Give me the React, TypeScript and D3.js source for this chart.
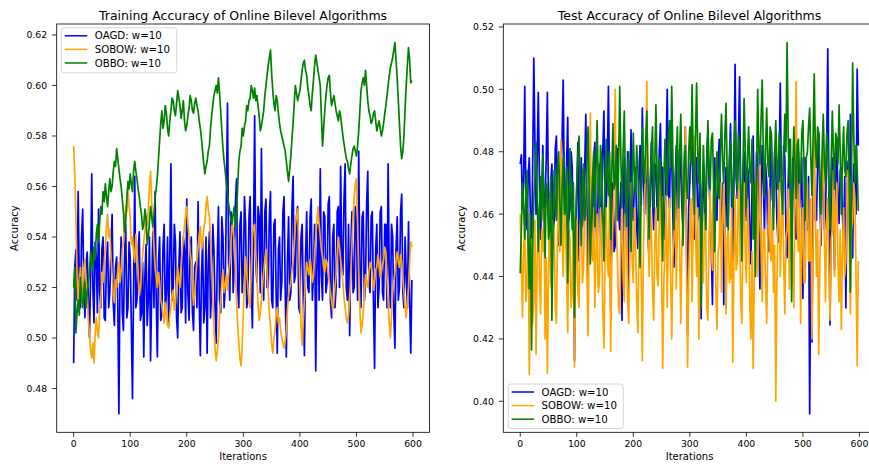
import React from 'react';
import * as d3 from 'd3';

// Iterations sampled every 2 steps (0..598)
const iterations = d3.range(0, 600, 2);

// ---- Training accuracy ----
const trainOagd = [
  0.490,0.528,0.535,0.515,0.558,0.522,0.512,0.540,0.551,0.520,0.508,0.530,0.534,0.515,0.500,0.525,0.565,0.520,0.506,0.538,
  0.532,0.510,0.551,0.518,0.512,0.535,0.540,0.508,0.507,0.530,0.538,0.512,0.518,0.536,0.549,0.514,0.505,0.528,0.532,0.515,
  0.470,0.525,0.540,0.510,0.503,0.532,0.545,0.508,0.512,0.538,0.532,0.505,0.476,0.520,0.564,0.512,0.515,0.535,0.542,0.507,
  0.510,0.530,0.4925,0.525,0.537,0.505,0.515,0.540,0.491,0.518,0.542,0.512,0.558,0.515,0.4925,0.530,0.540,0.507,0.510,0.536,
  0.545,0.510,0.518,0.540,0.505,0.532,0.569,0.515,0.520,0.545,0.538,0.508,0.500,0.528,0.542,0.510,0.512,0.540,0.535,0.506,
  0.555,0.518,0.507,0.536,0.540,0.510,0.503,0.528,0.530,0.512,0.554,0.515,0.493,0.525,0.538,0.506,0.512,0.540,0.494,0.530,
  0.542,0.508,0.520,0.545,0.535,0.512,0.498,0.532,0.552,0.515,0.510,0.548,0.540,0.512,0.520,0.555,0.593,0.530,0.515,0.550,
  0.548,0.518,0.528,0.553,0.563,0.520,0.512,0.545,0.550,0.518,0.525,0.556,0.545,0.512,0.515,0.548,0.556,0.520,0.504,0.540,
  0.588,0.530,0.522,0.552,0.548,0.518,0.575,0.528,0.515,0.550,0.555,0.520,0.520,0.548,0.558,0.515,0.512,0.545,0.547,0.518,
  0.494,0.535,0.540,0.515,0.522,0.550,0.556,0.520,0.4925,0.530,0.548,0.515,0.518,0.552,0.564,0.522,0.525,0.548,0.552,0.512,
  0.510,0.540,0.545,0.515,0.493,0.532,0.550,0.520,0.518,0.548,0.555,0.515,0.525,0.545,0.487,0.528,0.545,0.515,0.567,0.525,
  0.515,0.550,0.548,0.518,0.522,0.553,0.556,0.515,0.508,0.540,0.545,0.512,0.520,0.550,0.552,0.520,0.568,0.530,0.525,0.555,
  0.569,0.520,0.515,0.545,0.501,0.535,0.550,0.518,0.520,0.552,0.545,0.515,0.574,0.525,0.512,0.548,0.550,0.515,0.522,0.553,
  0.566,0.522,0.518,0.548,0.550,0.515,0.488,0.535,0.545,0.512,0.520,0.550,0.552,0.518,0.515,0.545,0.545,0.512,0.569,0.525,
  0.512,0.545,0.540,0.510,0.496,0.535,0.548,0.515,0.520,0.550,0.557,0.518,0.512,0.540,0.525,0.512,0.546,0.515,0.494,0.523,
];
const trainSobow = [
  0.576,0.565,0.548,0.525,0.512,0.522,0.528,0.516,0.520,0.528,0.531,0.522,0.518,0.507,0.502,0.495,0.492,0.498,0.490,0.501,
  0.508,0.503,0.500,0.511,0.515,0.526,0.522,0.530,0.536,0.544,0.549,0.540,0.543,0.532,0.525,0.517,0.514,0.523,0.520,0.527,
  0.530,0.522,0.527,0.535,0.538,0.546,0.552,0.550,0.559,0.552,0.548,0.537,0.540,0.534,0.530,0.541,0.535,0.524,0.517,0.520,
  0.526,0.533,0.538,0.542,0.548,0.545,0.551,0.560,0.566,0.553,0.545,0.536,0.528,0.524,0.520,0.526,0.522,0.515,0.513,0.509,
  0.506,0.514,0.510,0.505,0.504,0.509,0.512,0.517,0.519,0.511,0.514,0.522,0.528,0.523,0.520,0.529,0.535,0.540,0.544,0.549,
  0.552,0.545,0.541,0.534,0.530,0.519,0.513,0.518,0.524,0.531,0.536,0.541,0.544,0.535,0.538,0.543,0.546,0.552,0.556,0.551,
  0.548,0.539,0.530,0.515,0.505,0.496,0.491,0.495,0.500,0.509,0.515,0.522,0.527,0.518,0.521,0.525,0.519,0.526,0.530,0.537,
  0.546,0.543,0.538,0.526,0.515,0.505,0.498,0.492,0.489,0.497,0.510,0.523,0.532,0.526,0.520,0.514,0.512,0.527,0.540,0.544,
  0.545,0.534,0.525,0.513,0.507,0.510,0.515,0.521,0.526,0.531,0.535,0.526,0.518,0.510,0.505,0.498,0.494,0.499,0.503,0.509,
  0.512,0.506,0.508,0.503,0.500,0.498,0.496,0.499,0.503,0.511,0.517,0.520,0.522,0.527,0.530,0.538,0.545,0.548,0.551,0.537,
  0.520,0.505,0.497,0.507,0.515,0.524,0.530,0.527,0.525,0.531,0.528,0.522,0.524,0.533,0.540,0.547,0.552,0.545,0.540,0.535,
  0.532,0.528,0.526,0.531,0.530,0.525,0.522,0.518,0.515,0.511,0.514,0.520,0.525,0.533,0.540,0.536,0.531,0.527,0.522,0.516,
  0.512,0.508,0.506,0.509,0.515,0.526,0.537,0.548,0.556,0.561,0.563,0.545,0.526,0.512,0.502,0.505,0.510,0.518,0.525,0.522,
  0.520,0.526,0.530,0.528,0.526,0.519,0.522,0.527,0.528,0.533,0.530,0.524,0.526,0.529,0.531,0.536,0.534,0.524,0.515,0.506,
  0.500,0.509,0.518,0.522,0.526,0.531,0.534,0.530,0.528,0.533,0.530,0.524,0.518,0.512,0.508,0.514,0.520,0.530,0.538,0.536,
];
const trainObbo = [
  0.520,0.528,0.502,0.510,0.515,0.509,0.524,0.518,0.512,0.516,0.522,0.512,0.518,0.522,0.526,0.534,0.530,0.527,0.536,0.531,
  0.541,0.545,0.538,0.546,0.552,0.549,0.558,0.554,0.561,0.556,0.552,0.558,0.563,0.558,0.560,0.566,0.570,0.568,0.575,0.571,
  0.567,0.563,0.560,0.555,0.550,0.542,0.546,0.555,0.562,0.559,0.565,0.561,0.558,0.566,0.570,0.566,0.563,0.559,0.556,0.552,
  0.549,0.543,0.545,0.551,0.548,0.537,0.540,0.546,0.552,0.548,0.544,0.549,0.556,0.559,0.564,0.571,0.578,0.585,0.590,0.583,
  0.586,0.592,0.589,0.583,0.580,0.586,0.590,0.595,0.594,0.590,0.588,0.593,0.598,0.595,0.592,0.587,0.590,0.594,0.586,0.582,
  0.584,0.588,0.591,0.596,0.594,0.590,0.589,0.593,0.595,0.592,0.590,0.586,0.583,0.579,0.574,0.569,0.565,0.568,0.570,0.574,
  0.576,0.583,0.588,0.592,0.596,0.598,0.600,0.597,0.603,0.597,0.590,0.582,0.575,0.570,0.566,0.561,0.558,0.553,0.550,0.547,
  0.545,0.549,0.552,0.544,0.548,0.560,0.570,0.574,0.576,0.583,0.580,0.584,0.586,0.592,0.590,0.594,0.595,0.600,0.598,0.595,
  0.599,0.594,0.596,0.592,0.588,0.582,0.584,0.587,0.590,0.596,0.600,0.604,0.608,0.611,0.614,0.605,0.598,0.593,0.590,0.596,
  0.594,0.589,0.585,0.582,0.580,0.578,0.576,0.574,0.570,0.566,0.562,0.567,0.572,0.579,0.585,0.593,0.600,0.597,0.594,0.596,
  0.598,0.602,0.606,0.609,0.610,0.606,0.604,0.599,0.596,0.592,0.590,0.597,0.602,0.608,0.612,0.609,0.606,0.603,0.600,0.588,
  0.576,0.583,0.590,0.596,0.600,0.603,0.604,0.597,0.592,0.594,0.596,0.593,0.590,0.588,0.586,0.590,0.588,0.584,0.580,0.577,
  0.574,0.571,0.570,0.567,0.565,0.569,0.572,0.575,0.576,0.574,0.572,0.576,0.582,0.590,0.598,0.601,0.603,0.600,0.606,0.600,
  0.594,0.590,0.588,0.585,0.586,0.589,0.590,0.586,0.582,0.584,0.586,0.583,0.580,0.582,0.585,0.589,0.592,0.596,0.600,0.604,
  0.607,0.609,0.611,0.614,0.617,0.610,0.603,0.594,0.585,0.576,0.571,0.574,0.580,0.591,0.600,0.608,0.615,0.610,0.601,0.602,
];

// ---- Test accuracy ----
const testOagd = [
  0.476,0.479,0.462,0.470,0.501,0.465,0.455,0.472,0.478,0.460,0.448,0.475,0.510,0.483,0.460,0.478,0.499,0.470,0.452,0.466,
  0.482,0.455,0.465,0.478,0.499,0.462,0.447,0.470,0.476,0.449,0.458,0.481,0.485,0.460,0.450,0.472,0.470,0.484,0.503,0.466,
  0.455,0.476,0.491,0.458,0.462,0.480,0.475,0.445,0.413,0.452,0.468,0.483,0.445,0.468,0.478,0.456,0.460,0.474,0.492,0.462,
  0.440,0.466,0.472,0.452,0.455,0.478,0.483,0.458,0.448,0.470,0.476,0.453,0.458,0.480,0.493,0.466,0.462,0.475,0.501,0.470,
  0.4295,0.465,0.470,0.448,0.450,0.474,0.481,0.460,0.455,0.470,0.426,0.462,0.478,0.455,0.462,0.480,0.432,0.468,0.487,0.460,
  0.458,0.470,0.475,0.456,0.449,0.472,0.482,0.463,0.494,0.470,0.460,0.478,0.472,0.452,0.446,0.468,0.483,0.465,0.455,0.476,
  0.476,0.462,0.458,0.480,0.489,0.466,0.475,0.455,0.452,0.478,0.500,0.470,0.462,0.485,0.478,0.460,0.443,0.470,0.482,0.458,
  0.458,0.480,0.474,0.462,0.455,0.476,0.488,0.455,0.4215,0.462,0.470,0.485,0.481,0.466,0.452,0.474,0.478,0.458,0.460,0.482,
  0.4265,0.465,0.476,0.458,0.455,0.478,0.486,0.470,0.462,0.448,0.431,0.466,0.478,0.462,0.458,0.476,0.484,0.465,0.452,0.470,
  0.431,0.462,0.475,0.456,0.460,0.478,0.489,0.462,0.445,0.470,0.508,0.472,0.465,0.483,0.504,0.466,0.452,0.474,0.480,0.462,
  0.458,0.475,0.472,0.455,0.444,0.468,0.485,0.463,0.462,0.480,0.478,0.455,0.436,0.465,0.482,0.470,0.455,0.476,0.470,0.452,
  0.448,0.470,0.486,0.465,0.462,0.480,0.475,0.458,0.451,0.474,0.502,0.468,0.460,0.482,0.478,0.455,0.446,0.470,0.484,0.462,
  0.458,0.478,0.472,0.455,0.452,0.470,0.480,0.462,0.466,0.478,0.433,0.460,0.478,0.465,0.455,0.472,0.396,0.450,0.419,0.465,
  0.474,0.458,0.458,0.475,0.486,0.466,0.450,0.472,0.472,0.455,0.460,0.480,0.513,0.468,0.4245,0.462,0.478,0.460,0.442,0.470,
  0.484,0.465,0.457,0.474,0.475,0.460,0.450,0.472,0.430,0.466,0.477,0.458,0.492,0.470,0.446,0.476,0.470,0.460,0.5065,0.482,
];
const testSobow = [
  0.460,0.445,0.427,0.450,0.455,0.432,0.438,0.460,0.4085,0.440,0.452,0.425,0.432,0.458,0.415,0.445,0.462,0.440,0.428,0.455,
  0.448,0.462,0.420,0.446,0.409,0.440,0.465,0.438,0.436,0.458,0.455,0.430,0.425,0.452,0.472,0.448,0.484,0.455,0.440,0.462,
  0.458,0.440,0.422,0.455,0.452,0.430,0.435,0.460,0.411,0.445,0.458,0.435,0.430,0.456,0.462,0.438,0.442,0.465,0.468,0.440,
  0.421,0.455,0.4925,0.450,0.445,0.462,0.430,0.448,0.460,0.435,0.438,0.462,0.452,0.430,0.417,0.446,0.462,0.445,0.440,0.465,
  0.416,0.445,0.458,0.470,0.500,0.455,0.445,0.430,0.428,0.450,0.465,0.440,0.432,0.460,0.455,0.432,0.425,0.448,0.470,0.445,
  0.438,0.462,0.450,0.432,0.422,0.448,0.460,0.440,0.413,0.450,0.466,0.475,0.5025,0.455,0.440,0.462,0.455,0.435,0.426,0.450,
  0.462,0.440,0.437,0.458,0.470,0.445,0.4105,0.438,0.448,0.466,0.430,0.452,0.465,0.440,0.420,0.446,0.452,0.470,0.436,0.455,
  0.471,0.448,0.425,0.450,0.458,0.470,0.488,0.445,0.411,0.440,0.455,0.465,0.432,0.458,0.485,0.455,0.440,0.462,0.420,0.445,
  0.462,0.445,0.438,0.460,0.455,0.430,0.426,0.452,0.468,0.448,0.442,0.466,0.460,0.435,0.423,0.448,0.450,0.470,0.435,0.458,
  0.472,0.450,0.428,0.452,0.455,0.438,0.440,0.462,0.4125,0.445,0.466,0.442,0.445,0.470,0.458,0.432,0.425,0.455,0.470,0.448,
  0.438,0.465,0.455,0.432,0.420,0.448,0.4105,0.440,0.462,0.475,0.440,0.458,0.478,0.450,0.432,0.455,0.455,0.438,0.425,0.452,
  0.468,0.448,0.445,0.462,0.435,0.450,0.400,0.438,0.458,0.470,0.440,0.455,0.472,0.445,0.428,0.452,0.455,0.468,0.436,0.460,
  0.465,0.440,0.430,0.470,0.5025,0.455,0.448,0.470,0.425,0.450,0.462,0.438,0.438,0.460,0.470,0.445,0.445,0.465,0.420,0.448,
  0.492,0.460,0.440,0.455,0.415,0.445,0.458,0.470,0.490,0.452,0.432,0.458,0.465,0.440,0.426,0.452,0.455,0.474,0.440,0.462,
  0.470,0.445,0.432,0.455,0.423,0.448,0.462,0.440,0.445,0.466,0.474,0.450,0.428,0.455,0.458,0.470,0.465,0.440,0.4115,0.445,
];
const testObbo = [
  0.441,0.455,0.470,0.462,0.452,0.468,0.474,0.450,0.436,0.460,0.4165,0.448,0.465,0.472,0.483,0.466,0.448,0.462,0.472,0.458,
  0.479,0.462,0.446,0.470,0.468,0.452,0.455,0.472,0.426,0.455,0.474,0.462,0.458,0.476,0.480,0.464,0.450,0.468,0.478,0.460,
  0.462,0.475,0.438,0.462,0.481,0.466,0.455,0.470,0.427,0.458,0.470,0.478,0.485,0.465,0.450,0.472,0.476,0.458,0.460,0.478,
  0.488,0.466,0.444,0.462,0.472,0.480,0.456,0.474,0.490,0.470,0.462,0.482,0.478,0.460,0.445,0.468,0.484,0.472,0.466,0.480,
  0.452,0.474,0.489,0.468,0.470,0.482,0.458,0.476,0.501,0.478,0.462,0.480,0.493,0.470,0.456,0.474,0.480,0.466,0.448,0.470,
  0.486,0.472,0.466,0.482,0.475,0.460,0.443,0.468,0.488,0.476,0.470,0.484,0.493,0.472,0.452,0.470,0.480,0.488,0.462,0.476,
  0.495,0.474,0.458,0.478,0.476,0.462,0.445,0.470,0.484,0.472,0.466,0.485,0.490,0.475,0.501,0.478,0.455,0.470,0.478,0.488,
  0.462,0.480,0.492,0.472,0.450,0.474,0.482,0.468,0.465,0.480,0.488,0.476,0.5015,0.478,0.460,0.485,0.502,0.480,0.470,0.486,
  0.430,0.466,0.482,0.470,0.455,0.478,0.490,0.474,0.468,0.484,0.486,0.470,0.448,0.472,0.480,0.466,0.465,0.480,0.492,0.476,
  0.470,0.485,0.4955,0.474,0.455,0.476,0.484,0.470,0.462,0.480,0.490,0.472,0.468,0.486,0.482,0.466,0.445,0.474,0.497,0.480,
  0.462,0.478,0.488,0.474,0.470,0.484,0.452,0.470,0.440,0.472,0.500,0.480,0.476,0.490,0.503,0.480,0.465,0.482,0.494,0.476,
  0.472,0.488,0.486,0.470,0.455,0.478,0.490,0.476,0.468,0.486,0.482,0.470,0.460,0.478,0.492,0.480,0.515,0.485,0.470,0.484,
  0.432,0.472,0.488,0.476,0.465,0.482,0.484,0.470,0.470,0.486,0.490,0.474,0.458,0.478,0.480,0.488,0.494,0.478,0.466,0.484,
  0.505,0.482,0.475,0.488,0.486,0.472,0.460,0.480,0.492,0.476,0.470,0.486,0.482,0.468,0.455,0.476,0.493,0.480,0.468,0.486,
  0.484,0.476,0.495,0.480,0.460,0.478,0.488,0.474,0.472,0.486,0.490,0.470,0.435,0.472,0.5085,0.485,0.470,0.482,0.475,0.461,
];

const seriesNames = ['OAGD: w=10', 'SOBOW: w=10', 'OBBO: w=10'];
const seriesColors = ['blue', 'orange', 'green'];
const xTicks = [0, 100, 200, 300, 400, 500, 600];
const trainYTicks = [0.48, 0.50, 0.52, 0.54, 0.56, 0.58, 0.60, 0.62];
const testYTicks = [0.40, 0.42, 0.44, 0.46, 0.48, 0.50, 0.52];

const FONT = 'DejaVu Sans, sans-serif';
const TICK_FS = 9.3;
const LABEL_FS = 10;
const LEGEND_FS = 10.2;
const TITLE_FS = 12.5;

type PanelProps = {
  id: string;
  left: number;
  right: number;
  top: number;
  bottom: number;
  title: string;
  series: number[][];
  yTicks: number[];
  legendBox: { x: number; y: number; w: number; h: number };
};

function Panel({ id, left, right, top, bottom, title, series, yTicks, legendBox }: PanelProps) {
  const xMin = 0;
  const xMax = 599;
  const xPad = (xMax - xMin) * 0.05;
  const x = d3.scaleLinear().domain([xMin - xPad, xMax + xPad]).range([left, right]);

  const allY = series.flat();
  const [yMin, yMax] = d3.extent(allY) as [number, number];
  const yPad = (yMax - yMin) * 0.05;
  const y = d3.scaleLinear().domain([yMin - yPad, yMax + yPad]).range([bottom, top]);

  const line = d3
    .line<number>()
    .x((_, i) => x(iterations[i]))
    .y((d) => y(d));

  const cx = (left + right) / 2;
  const cy = (top + bottom) / 2;

  return (
    <g>
      <defs>
        <clipPath id={`clip-${id}`}>
          <rect x={left} y={top} width={right - left} height={bottom - top} />
        </clipPath>
      </defs>
      <g clipPath={`url(#clip-${id})`}>
        {series.map((s, k) => (
          <path
            key={k}
            d={line(s) || ''}
            fill="none"
            stroke={seriesColors[k]}
            strokeWidth={1.7}
            strokeLinejoin="round"
          />
        ))}
      </g>
      <rect x={left} y={top} width={right - left} height={bottom - top} fill="none" stroke="#000" strokeWidth={0.8} />
      {xTicks.map((t) => (
        <g key={`x${t}`}>
          <line x1={x(t)} x2={x(t)} y1={bottom} y2={bottom + 4.5} stroke="#000" strokeWidth={0.8} />
          <text x={x(t)} y={bottom + 14.6} textAnchor="middle" fontSize={TICK_FS} fontFamily={FONT} fill="#000">
            {t}
          </text>
        </g>
      ))}
      {yTicks.map((t) => (
        <g key={`y${t}`}>
          <line x1={left - 4.5} x2={left} y1={y(t)} y2={y(t)} stroke="#000" strokeWidth={0.8} />
          <text x={left - 9.5} y={y(t) + 3.4} textAnchor="end" fontSize={TICK_FS} fontFamily={FONT} fill="#000">
            {t.toFixed(2)}
          </text>
        </g>
      ))}
      <text x={cx} y={19.5} textAnchor="middle" fontSize={TITLE_FS} fontFamily={FONT} fill="#000">
        {title}
      </text>
      <text x={cx} y={459.5} textAnchor="middle" fontSize={LABEL_FS} fontFamily={FONT} fill="#000">
        Iterations
      </text>
      <text
        transform={`translate(${left - 38.3},${cy}) rotate(-90)`}
        textAnchor="middle"
        fontSize={LABEL_FS}
        fontFamily={FONT}
        fill="#000"
      >
        Accuracy
      </text>
      <g>
        <rect
          x={legendBox.x}
          y={legendBox.y}
          width={legendBox.w}
          height={legendBox.h}
          rx={2.5}
          fill="#fff"
          fillOpacity={0.8}
          stroke="#cccccc"
          strokeWidth={0.8}
        />
        {seriesNames.map((name, k) => {
          const ry = legendBox.y + 8 + k * 13.6;
          return (
            <g key={name}>
              <line
                x1={legendBox.x + 3.3}
                x2={legendBox.x + 25.8}
                y1={ry}
                y2={ry}
                stroke={seriesColors[k]}
                strokeWidth={1.5}
              />
              <text x={legendBox.x + 33.3} y={ry + 3.6} fontSize={LEGEND_FS} fontFamily={FONT} fill="#000">
                {name}
              </text>
            </g>
          );
        })}
      </g>
    </g>
  );
}

export default function App() {
  return (
    <svg
      width={869}
      height={464}
      style={{ position: 'absolute', left: 0, top: 0, background: '#fff' }}
      xmlns="http://www.w3.org/2000/svg"
    >
      <rect x={0} y={0} width={869} height={464} fill="#fff" />
      <Panel
        id="train"
        left={56.7}
        right={429.4}
        top={24}
        bottom={432.3}
        title="Training Accuracy of Online Bilevel Algorithms"
        series={[trainOagd, trainSobow, trainObbo]}
        yTicks={trainYTicks}
        legendBox={{ x: 61.5, y: 27.8, w: 115.2, h: 45 }}
      />
      <Panel
        id="test"
        left={503.3}
        right={875.8}
        top={24}
        bottom={432.3}
        title="Test Accuracy of Online Bilevel Algorithms"
        series={[testOagd, testSobow, testObbo]}
        yTicks={testYTicks}
        legendBox={{ x: 508.3, y: 384, w: 115, h: 44.5 }}
      />
    </svg>
  );
}
